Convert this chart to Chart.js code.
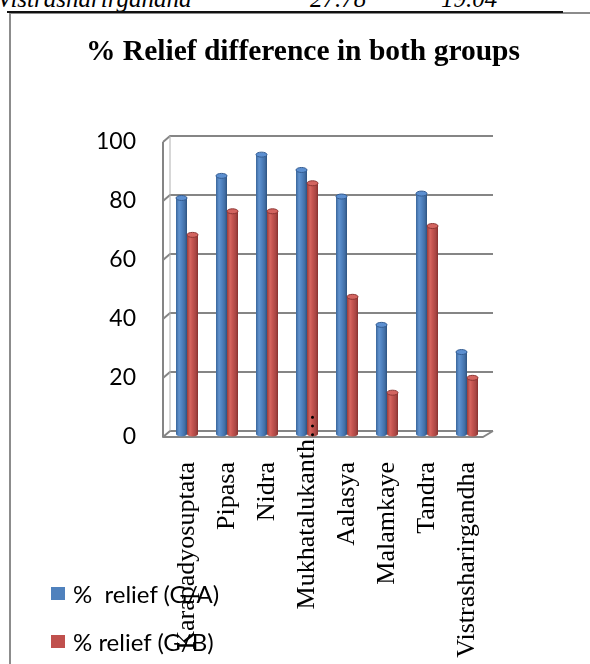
<!DOCTYPE html>
<html>
<head>
<meta charset="utf-8">
<script src="https://cdn.jsdelivr.net/npm/chart.js@4.4.1/dist/chart.umd.min.js"></script>
<style>
  html, body { margin: 0; padding: 0; background: #fff; width: 590px; height: 664px; overflow: hidden; }
  body { position: relative; }
  #row { position: absolute; left: 0; top: -14px; height: 25px; width: 590px;
         font: italic 25px "Liberation Serif", serif; line-height: 25px; color: #000; white-space: nowrap; }
  #row span { position: absolute; top: 0; }
  #rule { position: absolute; left: 7px; top: 11px; width: 556px; height: 2px; background: #111; }
  #frame { position: absolute; left: 9px; top: 12px; width: 620px; height: 700px;
           border: 2px solid #8c8c8c; box-sizing: border-box; }
  #wrap { position: absolute; left: 16px; top: 0; width: 574px; height: 664px; }
  #legend { position: absolute; left: 0; top: 0; font: 24px Lato, sans-serif; color: #000; }
  .item { position: absolute; white-space: pre; display: flex; align-items: center; height: 26px; }
  .sw { width: 14px; height: 13px; margin-right: 8px; flex: none; }
</style>
</head>
<body>
<div id="row"><span style="left:-3px">Vistrasharirgandha</span><span style="left:310px">27.78</span><span style="left:441px">19.04</span></div>
<div id="frame"></div>
<div id="rule"></div>
<div id="wrap"><canvas id="chart"></canvas></div>
<div id="legend"></div>
<script>
// Symptom-wise relief, two treatment groups
const categories = ['Karapadyosuptata', 'Pipasa', 'Nidra', 'Mukhatalukanth\u2026', 'Aalasya', 'Malamkaye', 'Tandra', 'Vistrasharirgandha'];
const reliefGA = [80, 87.5, 94.7, 89.5, 80.5, 37, 81.5, 27.78];
const reliefGB = [67.5, 75.5, 75.5, 85, 46.5, 14, 70.5, 19.04];
const seriesNames = ['%  relief (G/A)', '% relief (G/B)'];
const seriesColors = ['#4F81BD', '#C0504D'];
const yTicks = [0, 20, 40, 60, 80, 100];
const raisedLabel = 3; // this category label sits higher, ellipsis poking above the floor

// shading for the cylindrical columns
const tones = [
  { stops: ['#3a669b', '#6193cf', '#5184c2', '#426ea5', '#2d527f'], cap: '#5c8fd0', rim: '#345c91' },
  { stops: ['#9c3b38', '#d6665f', '#c45450', '#a94643', '#85302e'], cap: '#d3645f', rim: '#8c3532' }
];

// 3-D walls: back grid lines, left wall diagonals and the floor
const frame3d = {
  id: 'frame3d',
  beforeDatasetsDraw(chart) {
    const { ctx, chartArea: a, scales: { y } } = chart;
    const fl = a.left - 4, bl = a.left + 3, br = a.right + 6, fr = a.right - 4;
    const y0 = y.getPixelForValue(0), yTop = y.getPixelForValue(100);
    ctx.save();
    ctx.strokeStyle = '#858585';
    ctx.lineWidth = 2;
    ctx.lineJoin = 'round';
    yTicks.forEach(v => {
      const yp = y.getPixelForValue(v);
      ctx.beginPath();
      ctx.moveTo(fl, yp + 3);
      ctx.lineTo(bl, yp - 3);
      ctx.lineTo(br, yp - 3);
      ctx.stroke();
    });
    ctx.beginPath();
    ctx.moveTo(fl, yTop + 3);
    ctx.lineTo(fl, y0 + 3);
    ctx.lineTo(fr, y0 + 3);
    ctx.lineTo(br, y0 - 3);
    ctx.stroke();
    ctx.beginPath();
    ctx.moveTo(bl, yTop - 3);
    ctx.lineTo(bl, y0 - 3);
    ctx.strokeStyle = '#b0b0b0';
    ctx.lineWidth = 1;
    ctx.stroke();
    ctx.restore();
  }
};

// paint each bar as a shaded cylinder with an elliptical cap
const cylinders = {
  id: 'cylinders',
  afterDatasetsDraw(chart) {
    const ctx = chart.ctx;
    chart.data.datasets.forEach((ds, di) => {
      const meta = chart.getDatasetMeta(di);
      const t = tones[di];
      meta.data.forEach(bar => {
        const { x, y, base, width } = bar.getProps(['x', 'y', 'base', 'width'], true);
        const l = x - width / 2, r = x + width / 2, ry = 2.5;
        const g = ctx.createLinearGradient(l, 0, r, 0);
        [0, 0.28, 0.5, 0.8, 1].forEach((p, i) => g.addColorStop(p, t.stops[i]));
        ctx.save();
        ctx.beginPath();
        ctx.moveTo(l, y);
        ctx.lineTo(l, base);
        ctx.ellipse(x, base, width / 2, ry, 0, Math.PI, 0, true);
        ctx.lineTo(r, y);
        ctx.closePath();
        ctx.fillStyle = g;
        ctx.fill();
        ctx.beginPath();
        ctx.ellipse(x, y, width / 2, ry, 0, 0, Math.PI * 2);
        ctx.fillStyle = t.cap;
        ctx.fill();
        ctx.strokeStyle = t.rim;
        ctx.lineWidth = 1;
        ctx.stroke();
        ctx.restore();
      });
    });
  }
};

// the one raised category label
const raisedTick = {
  id: 'raisedTick',
  afterDraw(chart) {
    const xs = chart.scales.x;
    const o = xs.options.ticks;
    const { ctx } = chart;
    ctx.save();
    ctx.translate(xs.getPixelForTick(raisedLabel), xs.top + o.padding - 41);
    ctx.rotate(-Math.PI / 2);
    ctx.font = `${o.font.size}px ${o.font.family}`;
    ctx.fillStyle = '#000';
    ctx.textAlign = 'right';
    ctx.textBaseline = 'middle';
    ctx.fillText(categories[raisedLabel], 0, 0);
    ctx.restore();
  }
};

const chart = new Chart(document.getElementById('chart'), {
  type: 'bar',
  data: {
    labels: categories,
    datasets: [
      { label: seriesNames[0], data: reliefGA, backgroundColor: seriesColors[0] },
      { label: seriesNames[1], data: reliefGB, backgroundColor: seriesColors[1] }
    ]
  },
  options: {
    responsive: true,
    maintainAspectRatio: false,
    animation: false,
    layout: { padding: 0 },
    categoryPercentage: 0.55,
    barPercentage: 1.0,
    plugins: {
      legend: { display: false },
      tooltip: { enabled: false },
      title: {
        display: true,
        text: '% Relief difference in both groups',
        color: '#000',
        font: { family: '"Liberation Serif", serif', size: 29.5, weight: 'bold' },
        padding: { top: 35, bottom: 68.6 }
      }
    },
    scales: {
      x: {
        grid: { display: false },
        border: { display: false },
        ticks: {
          autoSkip: false,
          maxRotation: 90,
          minRotation: 90,
          padding: 20,
          color: ctx => ctx.index === raisedLabel ? 'rgba(0,0,0,0)' : '#000',
          font: { family: '"Liberation Serif", serif', size: 26 }
        },
        afterFit: s => { s.height = 230; }
      },
      y: {
        min: 0,
        max: 100,
        grid: { display: false },
        border: { display: false },
        ticks: {
          stepSize: 20,
          padding: 23,
          labelOffset: 3,
          color: '#000',
          font: { family: 'Lato, sans-serif', size: 23 }
        },
        afterFit: s => { s.width = 151; }
      },
      spacer: {
        type: 'linear',
        position: 'right',
        display: true,
        grid: { display: false },
        border: { display: false },
        ticks: { display: false },
        afterFit: s => { s.width = 103; }
      }
    }
  },
  plugins: [frame3d, cylinders, raisedTick]
});

// legend, built from the datasets
const legend = document.getElementById('legend');
chart.data.datasets.forEach((ds, i) => {
  const item = document.createElement('div');
  item.className = 'item';
  item.style.left = '51px';
  item.style.top = (580 + i * 48) + 'px';
  const sw = document.createElement('span');
  sw.className = 'sw';
  sw.style.background = ds.backgroundColor;
  const tx = document.createElement('span');
  tx.textContent = ds.label;
  item.appendChild(sw);
  item.appendChild(tx);
  legend.appendChild(item);
});
</script>
</body>
</html>
